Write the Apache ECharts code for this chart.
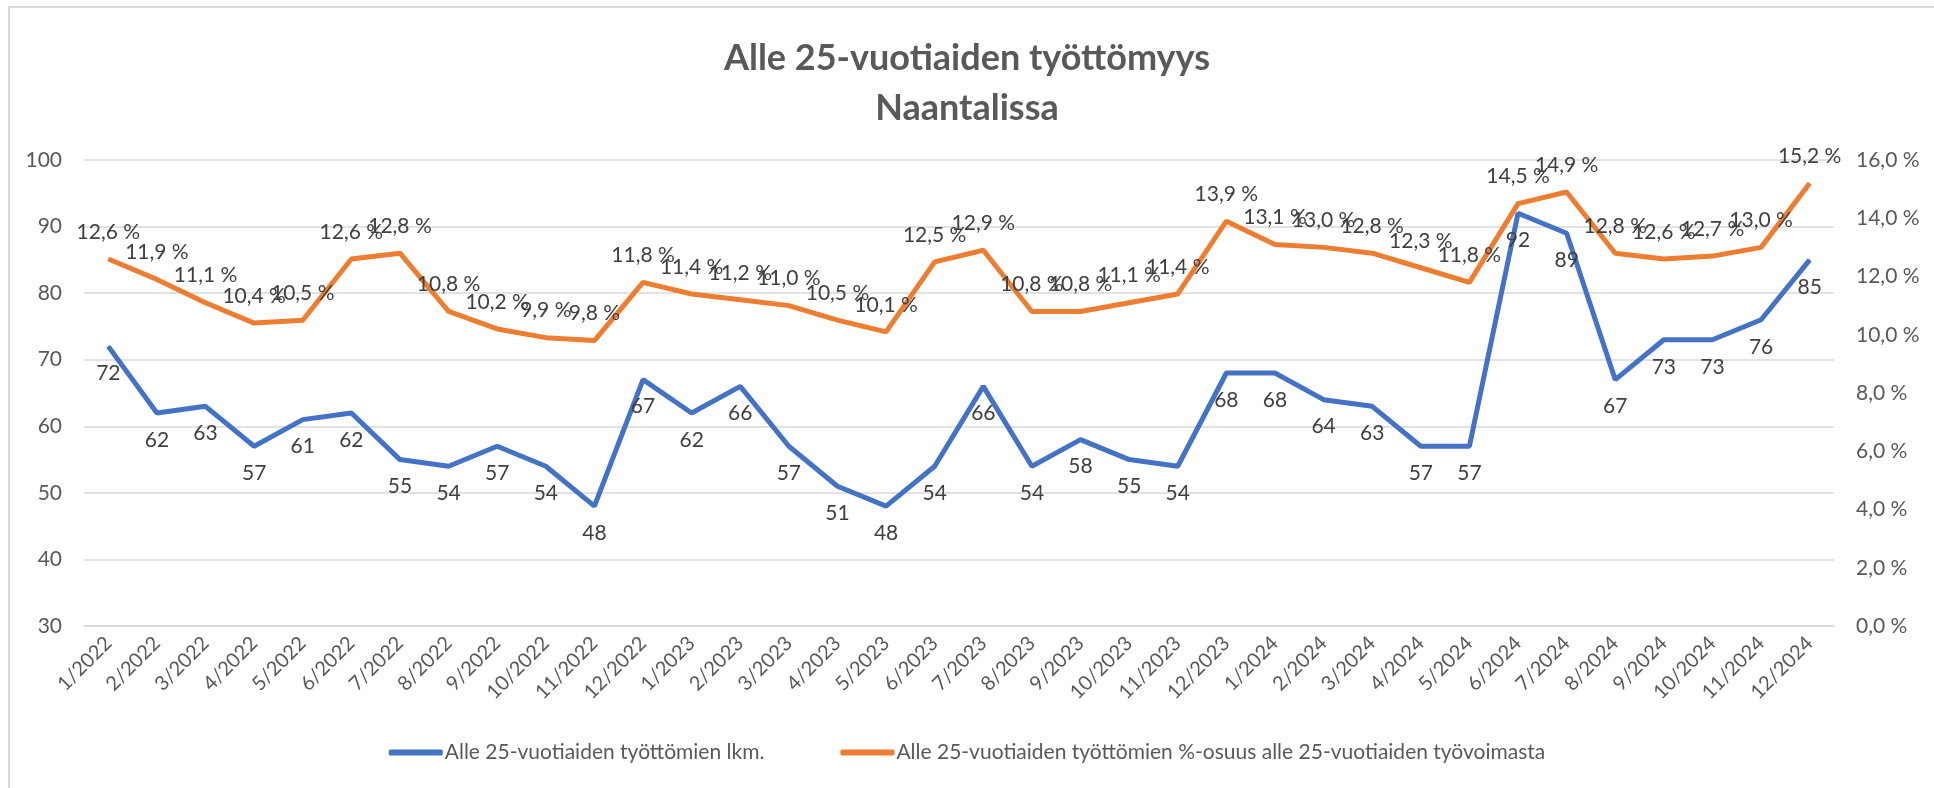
<!DOCTYPE html>
<html>
<head>
<meta charset="utf-8">
<script src="https://cdn.jsdelivr.net/npm/echarts@6/dist/echarts.min.js"></script>
<style>
  html, body { margin: 0; padding: 0; background: #fff; }
  #chart { width: 1934px; height: 788px; }
</style>
</head>
<body>
<div id="chart"></div>
<script>
  // kuukaudet 1/2022 ... 12/2024
  const months = [
    '1/2022', '2/2022', '3/2022', '4/2022', '5/2022', '6/2022', '7/2022', '8/2022', '9/2022', '10/2022', '11/2022', '12/2022',
    '1/2023', '2/2023', '3/2023', '4/2023', '5/2023', '6/2023', '7/2023', '8/2023', '9/2023', '10/2023', '11/2023', '12/2023',
    '1/2024', '2/2024', '3/2024', '4/2024', '5/2024', '6/2024', '7/2024', '8/2024', '9/2024', '10/2024', '11/2024', '12/2024'
  ]
  const countName = 'Alle 25-vuotiaiden työttömien lkm.'
  const shareName = 'Alle 25-vuotiaiden työttömien %-osuus alle 25-vuotiaiden työvoimasta'
  const countValues = [
    72, 62, 63, 57, 61, 62, 55, 54, 57, 54, 48, 67,
    62, 66, 57, 51, 48, 54, 66, 54, 58, 55, 54, 68,
    68, 64, 63, 57, 57, 92, 89, 67, 73, 73, 76, 85
  ]
  const shareValues = [
    12.6, 11.9, 11.1, 10.4, 10.5, 12.6, 12.8, 10.8, 10.2, 9.9, 9.8, 11.8,
    11.4, 11.2, 11.0, 10.5, 10.1, 12.5, 12.9, 10.8, 10.8, 11.1, 11.4, 13.9,
    13.1, 13.0, 12.8, 12.3, 11.8, 14.5, 14.9, 12.8, 12.6, 12.7, 13.0, 15.2
  ]

  const font = 'Lato, "Open Sans", sans-serif'
  const pct = v => v.toFixed(1).replace('.', ',') + ' %'

  let chart = echarts.init(document.getElementById('chart'))
  let option = {
    animation: false,
    textStyle: {fontFamily: font},
    graphic: [{
      type: 'rect',
      shape: {x: 9, y: 7, width: 1960, height: 800},
      style: {fill: 'none', stroke: '#d9d9d9', lineWidth: 2}
    }],
    title: {
      text: 'Alle 25-vuotiaiden työttömyys\nNaantalissa',
      left: 'center',
      top: 28,
      textStyle: {fontFamily: font, fontSize: 36, fontWeight: 'bold', color: '#595959', lineHeight: 50}
    },
    legend: {
      bottom: 20,
      left: 'center',
      itemGap: 76,
      itemWidth: 54,
      itemHeight: 6,
      icon: 'roundRect',
      textStyle: {fontFamily: font, fontSize: 21, color: '#595959', padding: [0, 0, 0, -3]},
      data: [countName, shareName]
    },
    grid: {left: 84, right: 100, top: 160, bottom: 162},
    xAxis: {
      type: 'category',
      data: months,
      boundaryGap: true,
      axisLine: {show: true, lineStyle: {color: '#d9d9d9', width: 1.5}},
      axisTick: {show: false},
      axisLabel: {rotate: 45, margin: 14, fontSize: 20, color: '#595959', interval: 0}
    },
    yAxis: [{
      type: 'value',
      min: 30, max: 100, interval: 10,
      axisLine: {show: false},
      axisTick: {show: false},
      axisLabel: {margin: 22, fontSize: 21, color: '#595959'},
      splitLine: {lineStyle: {color: '#d9d9d9', width: 1.5}}
    }, {
      type: 'value',
      min: 0, max: 16, interval: 2,
      axisLine: {show: false},
      axisTick: {show: false},
      axisLabel: {margin: 22, fontSize: 21, color: '#595959', formatter: pct},
      splitLine: {show: false}
    }],
    series: [{
      name: countName,
      type: 'line',
      data: countValues,
      yAxisIndex: 0,
      symbol: 'circle',
      symbolSize: 1,
      color: '#4472c4',
      lineStyle: {width: 5, color: '#4472c4'},
      label: {show: true, position: 'bottom', distance: 16, fontSize: 21, color: '#404040'}
    }, {
      name: shareName,
      type: 'line',
      data: shareValues,
      yAxisIndex: 1,
      symbol: 'circle',
      symbolSize: 1,
      color: '#ed7d31',
      lineStyle: {width: 5, color: '#ed7d31'},
      label: {show: true, position: 'top', distance: 16, fontSize: 21, color: '#404040', formatter: p => pct(p.value)}
    }]
  }
  chart.setOption(option)
</script>
</body>
</html>
